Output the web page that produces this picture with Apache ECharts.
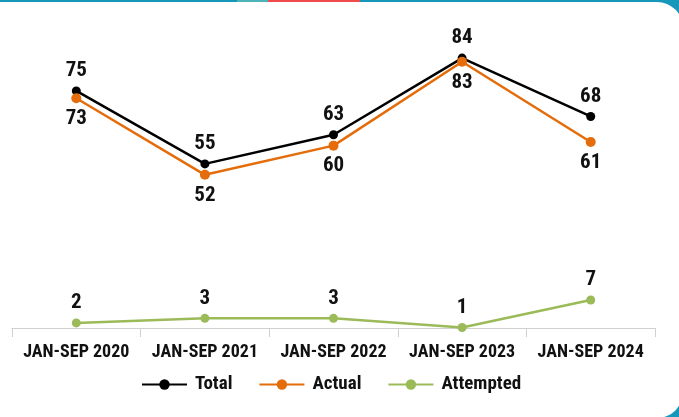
<!DOCTYPE html>
<html>
<head>
<meta charset="utf-8">
<script src="https://cdn.jsdelivr.net/npm/echarts@6/dist/echarts.min.js"></script>
<style>
html, body { margin: 0; padding: 0; background: #fff; }
#chart { width: 679px; height: 417px; }
</style>
</head>
<body>
<div id="chart"></div>
<script>
var periods = ["JAN-SEP 2020", "JAN-SEP 2021", "JAN-SEP 2022", "JAN-SEP 2023", "JAN-SEP 2024"];
var total = [75, 55, 63, 84, 68];
var actual = [73, 52, 60, 83, 61];
var attempted = [2, 3, 3, 1, 7];

var font = "'Liberation Sans Narrow', 'Roboto Condensed', 'DejaVu Sans Condensed', sans-serif";
var teal = "#1598ba";

var myChart = echarts.init(document.getElementById("chart"));

var labelStyle = {
    show: true,
    color: "#111",
    fontFamily: font,
    fontWeight: "bold",
    fontSize: 21
};

myChart.setOption({
    animation: false,
    graphic: [
        // frame: teal behind, white card on top
        { type: "rect", z: -20, silent: true, shape: { x: 0, y: 0, width: 679, height: 417 }, style: { fill: teal } },
        { type: "rect", z: -19, silent: true, shape: { x: -40, y: 2, width: 723, height: 416, r: [0, 26, 26, 0] }, style: { fill: "#fff" } },
        { type: "rect", z: -18, silent: true, shape: { x: 237, y: 0, width: 31, height: 2 }, style: { fill: "#4db3b8" } },
        { type: "rect", z: -18, silent: true, shape: { x: 268, y: 0, width: 92, height: 2 }, style: { fill: "#ef4b4b" } }
    ],
    grid: {
        left: 12,
        right: 24,
        top: 18,
        bottom: 89
    },
    legend: {
        left: 136,
        top: 370,
        itemWidth: 45,
        itemHeight: 13,
        itemGap: 26,
        textStyle: {
            color: "#111",
            fontFamily: font,
            fontWeight: "bold",
            fontSize: 19,
            padding: [0, 0, 0, 3]
        },
        data: ["Total", "Actual", "Attempted"]
    },
    xAxis: {
        type: "category",
        data: periods,
        boundaryGap: true,
        axisLine: { lineStyle: { color: "#d0d0d0", width: 1 } },
        axisTick: { show: true, length: 9, lineStyle: { color: "#d0d0d0" } },
        axisLabel: {
            interval: 0,
            hideOverlap: false,
            color: "#111",
            fontFamily: font,
            fontWeight: "bold",
            fontSize: 18,
            margin: 15
        }
    },
    yAxis: [
        { type: "value", min: 10, max: 95, show: false, splitLine: { show: false } },
        { type: "value", min: 0.9, max: 68.3, show: false, splitLine: { show: false } }
    ],
    series: [
        {
            name: "Total",
            type: "line",
            data: total,
            symbol: "circle",
            symbolSize: 9,
            itemStyle: { color: "#000" },
            lineStyle: { color: "#000", width: 2.5 },
            label: Object.assign({ position: "top" }, labelStyle),
            z: 3
        },
        {
            name: "Actual",
            type: "line",
            data: actual,
            symbol: "circle",
            symbolSize: 10,
            itemStyle: { color: "#e46c0a" },
            lineStyle: { color: "#e46c0a", width: 2.5 },
            label: Object.assign({ position: "bottom" }, labelStyle)
        },
        {
            name: "Attempted",
            type: "line",
            yAxisIndex: 1,
            data: attempted,
            symbol: "circle",
            symbolSize: 9,
            itemStyle: { color: "#9bbb59" },
            lineStyle: { color: "#9bbb59", width: 2.5 },
            label: Object.assign({ position: "top" }, labelStyle)
        }
    ]
});
</script>
</body>
</html>
